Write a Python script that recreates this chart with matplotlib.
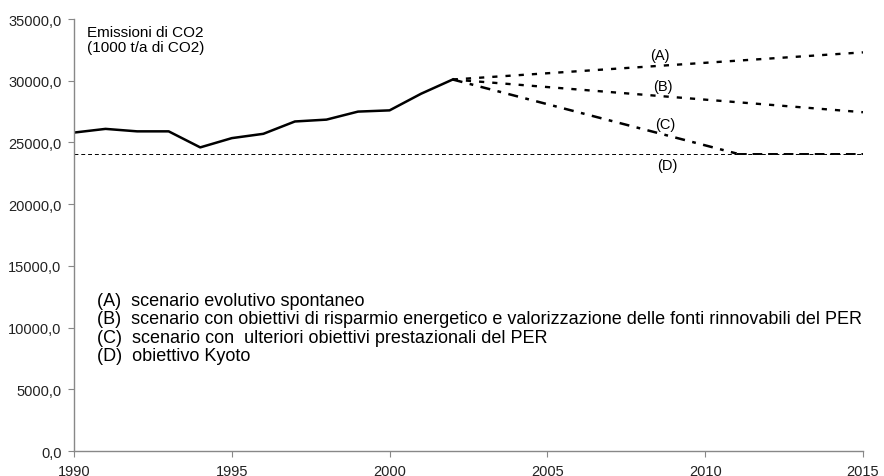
import matplotlib
matplotlib.use('Agg')
import matplotlib.pyplot as plt

plt.rcParams['font.family'] = ['Liberation Sans', 'DejaVu Sans']

# storico emissioni (1000 t/a di CO2)
anni_storico = [1990, 1991, 1992, 1993, 1994, 1995, 1996, 1997, 1998, 1999, 2000, 2001, 2002]
emissioni = [25800, 26100, 25900, 25900, 24600, 25350, 25700, 26700, 26850, 27500, 27600, 28950, 30100]

# scenari
anni_a = [2002, 2015]
scenario_a = [30100, 32300]
anni_b = [2002, 2015]
scenario_b = [30100, 27450]
anni_c = [2002, 2011, 2015]
scenario_c = [30100, 24100, 24100]
kyoto = 24100

legenda = [
    "(A)  scenario evolutivo spontaneo",
    "(B)  scenario con obiettivi di risparmio energetico e valorizzazione delle fonti rinnovabili del PER",
    "(C)  scenario con  ulteriori obiettivi prestazionali del PER",
    "(D)  obiettivo Kyoto",
]

fig = plt.figure(figsize=(8.84, 4.77), dpi=100)
ax = fig.add_axes([0.0837, 0.0524, 0.8925, 0.9056])

ax.axhline(kyoto, color='black', lw=0.7, linestyle=(0, (4, 3)))
ax.plot(anni_storico, emissioni, color='black', lw=1.8)
ax.plot(anni_a, scenario_a, color='black', lw=1.7, linestyle=(0, (2.2, 3.4)))
ax.plot(anni_b, scenario_b, color='black', lw=1.7, linestyle=(0, (2.2, 3.4)))
ax.plot(anni_c[:2], scenario_c[:2], color='black', lw=1.8, linestyle=(0, (4, 3, 1.5, 3)))
ax.plot(anni_c[1:], scenario_c[1:], color='black', lw=1.4, linestyle=(0, (5, 3)))

for lab, x, y in [("(A)", 2008.55, 32050), ("(B)", 2008.65, 29580),
                  ("(C)", 2008.75, 26500), ("(D)", 2008.8, 23200)]:
    ax.text(x, y, lab, fontsize=10.5, ha='center', va='center')

ax.text(1990.4, 34500, "Emissioni di CO2\n(1000 t/a di CO2)", fontsize=11,
        ha='left', va='top', linespacing=1.05)

for i, t in enumerate(legenda):
    ax.text(1990.73, 12230 - i * 1500, t, fontsize=13, ha='left', va='center')

ax.set_xlim(1990, 2015)
ax.set_ylim(0, 35000)
ax.set_xticks([1990, 1995, 2000, 2005, 2010, 2015])
ax.set_yticks(range(0, 35001, 5000))
ax.set_yticklabels([f"{v:.1f}".replace('.', ',') for v in range(0, 35001, 5000)])

for s in ['top', 'right']:
    ax.spines[s].set_visible(False)
for s in ['left', 'bottom']:
    ax.spines[s].set_color('#888888')
    ax.spines[s].set_linewidth(1)
ax.tick_params(axis='both', colors='#888888', labelcolor='#222222', labelsize=10.5, length=4)
ax.tick_params(axis='x', pad=5)
ax.tick_params(axis='y', pad=5)

fig.savefig('out.png', dpi=100)
